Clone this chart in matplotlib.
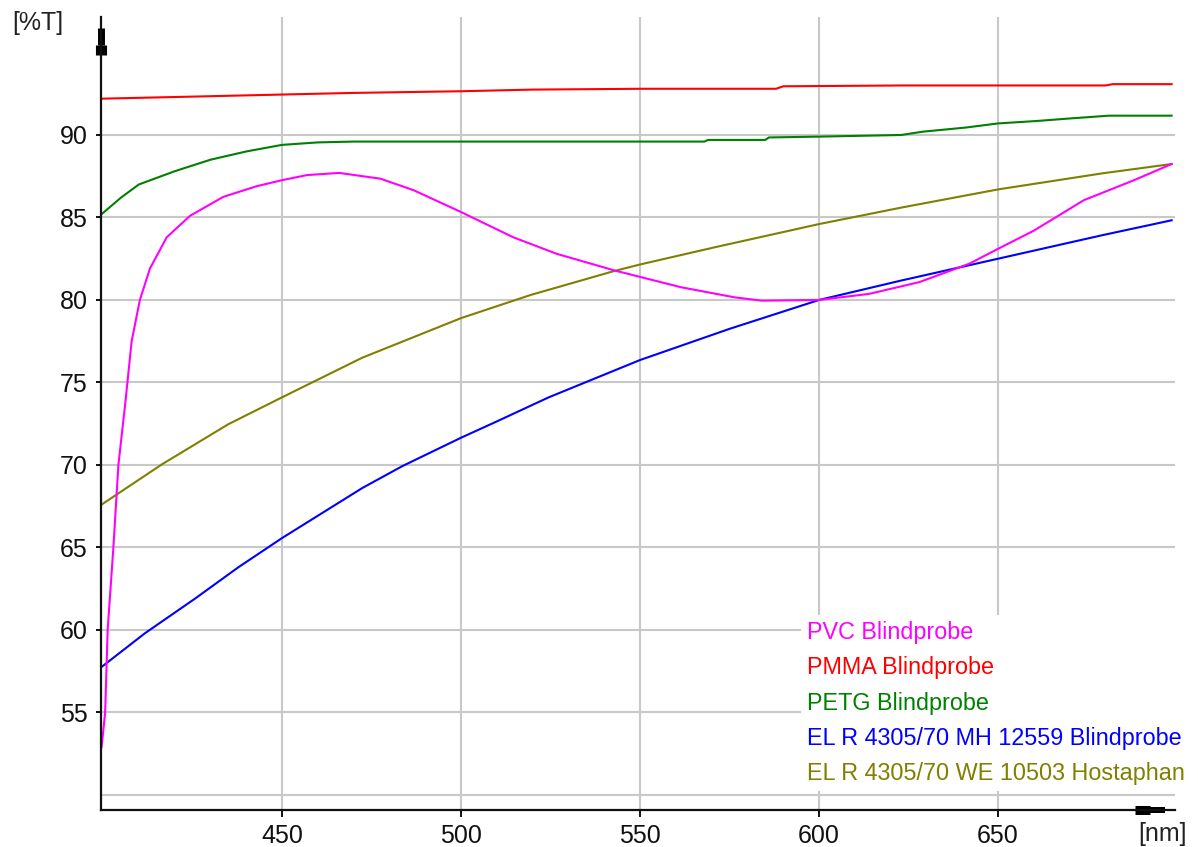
import matplotlib.pyplot as plt

# wavelength [nm] / transmission [%T]
wl_pvc = [399.6, 400.6, 401.3, 402.9, 404.3, 406.3, 408.0, 410.3, 413.1, 417.8, 424.3, 433.6,
          443.0, 450.0, 457.0, 466.0, 477.5, 486.8, 500.0, 514.6, 526.7, 542.7, 550.0, 561.5,
          576.4, 584.0, 600.0, 614.0, 628.0, 642.0, 650.0, 660.0, 674.0, 688.0, 698.5]
t_pvc = [52.9, 55.0, 60.0, 65.0, 70.0, 73.9, 77.5, 80.0, 81.9, 83.8, 85.1, 86.25,
         86.9, 87.26, 87.57, 87.7, 87.35, 86.65, 85.33, 83.8, 82.8, 81.8, 81.4, 80.77,
         80.16, 79.96, 80.0, 80.37, 81.08, 82.2, 83.1, 84.2, 86.05, 87.26, 88.24]

wl_pmma = [399.6, 420, 440, 450, 470, 500, 520, 550, 588, 590, 623, 650, 680, 682, 698.5]
t_pmma = [92.2, 92.3, 92.4, 92.45, 92.55, 92.65, 92.75, 92.8, 92.8, 92.95, 93.0, 93.0, 93.0, 93.08, 93.08]

wl_petg = [399.6, 405, 410, 420, 430, 440, 450, 460, 470, 568, 569, 585, 586, 600, 623,
           629, 641, 650, 661, 670, 681, 698.5]
t_petg = [85.2, 86.2, 87.0, 87.8, 88.5, 89.0, 89.4, 89.55, 89.6, 89.6, 89.7, 89.7, 89.85, 89.9, 90.0,
          90.2, 90.45, 90.7, 90.85, 91.0, 91.17, 91.17]

wl_mh = [399.6, 411.7, 425.7, 437.8, 450, 472.4, 483.6, 500, 509.6, 524.5, 550, 575, 600,
         623, 650, 679, 698.5]
t_mh = [57.76, 59.8, 61.9, 63.8, 65.57, 68.6, 69.93, 71.65, 72.6, 74.1, 76.36, 78.25, 80.0,
        81.18, 82.5, 83.92, 84.83]

wl_we = [399.6, 416.4, 435, 450, 472.4, 500, 519.4, 542.7, 550, 571, 600, 623, 650, 679, 698.5]
t_we = [67.6, 70.03, 72.47, 74.1, 76.5, 78.9, 80.3, 81.75, 82.15, 83.2, 84.6, 85.6, 86.7, 87.67, 88.24]

labels = ["PVC Blindprobe", "PMMA Blindprobe", "PETG Blindprobe",
          "EL R 4305/70 MH 12559 Blindprobe", "EL R 4305/70 WE 10503 Hostaphan"]
colors = ["#ff00ff", "#ff0000", "#008000", "#0000ff", "#808000"]

x_ticks = [450, 500, 550, 600, 650]
y_ticks = [55, 60, 65, 70, 75, 80, 85, 90]
y_grid = [50, 55, 60, 65, 70, 75, 80, 85, 90]

plt.rcParams['font.family'] = ['Liberation Sans', 'DejaVu Sans']

W, H = 1198, 847
fig = plt.figure(figsize=(W / 100, H / 100), dpi=100)
ax = fig.add_axes([100.5 / W, (H - 810) / H, (1175 - 100.5) / W, (810 - 17) / H])
ax.set_xlim(399.3, 699.44)
ax.set_ylim(49.09, 97.15)

# grid
for gx in x_ticks:
    ax.axvline(gx, color="#c8c8c8", lw=1.5, zorder=0)
for gy in y_grid:
    ax.axhline(gy, color="#c8c8c8", lw=1.5, zorder=0)

# curves
lines = {}
lines[1], = ax.plot(wl_pmma, t_pmma, color=colors[1], lw=1.5)
lines[2], = ax.plot(wl_petg, t_petg, color=colors[2], lw=1.5)
lines[4], = ax.plot(wl_we, t_we, color=colors[4], lw=1.5)
lines[3], = ax.plot(wl_mh, t_mh, color=colors[3], lw=1.5)
lines[0], = ax.plot(wl_pvc, t_pvc, color=colors[0], lw=1.5)

ax.spines['top'].set_visible(False)
ax.spines['right'].set_visible(False)
for s in ['left', 'bottom']:
    ax.spines[s].set_linewidth(1.6)
    ax.spines[s].set_color('#111111')

ax.set_xticks(x_ticks)
ax.set_yticks(y_ticks)
ax.tick_params(axis='y', length=3.6, width=1.4, pad=5.5, labelsize=18, colors='#111111')
ax.tick_params(axis='x', length=5, width=1.4, pad=5, labelsize=18, colors='#111111')

# axis arrows
ax.plot([0, 0], [0.952, 0.9647], transform=ax.transAxes, color='k', lw=8,
        solid_capstyle='butt', clip_on=False)
ax.plot([0, 0], [0.9647, 0.986], transform=ax.transAxes, color='k', lw=5,
        solid_capstyle='butt', clip_on=False)
ax.plot([0.9628, 0.9767], [0, 0], transform=ax.transAxes, color='k', lw=6.5,
        solid_capstyle='butt', clip_on=False)
ax.plot([0.9767, 0.9907], [0, 0], transform=ax.transAxes, color='k', lw=4.3,
        solid_capstyle='butt', clip_on=False)

fig.text(12 / W, 1 - 11 / H, "[%T]", fontsize=18, va='top', ha='left', color='#222222')
fig.text(1138 / W, 1 - 822 / H, "[nm]", fontsize=18, va='top', ha='left', color='#222222')

leg = ax.legend([lines[i] for i in range(5)], labels,
                loc='upper left', bbox_to_anchor=(801 / W, 1 - 615 / H),
                bbox_transform=fig.transFigure, frameon=True, fancybox=False,
                edgecolor='none', facecolor='white', framealpha=1,
                handlelength=0, handletextpad=0, labelcolor='linecolor',
                fontsize=16.8, labelspacing=0.53, borderpad=0.25, borderaxespad=0)
for h in leg.legend_handles:
    h.set_visible(False)

fig.savefig("out.png", dpi=100)
